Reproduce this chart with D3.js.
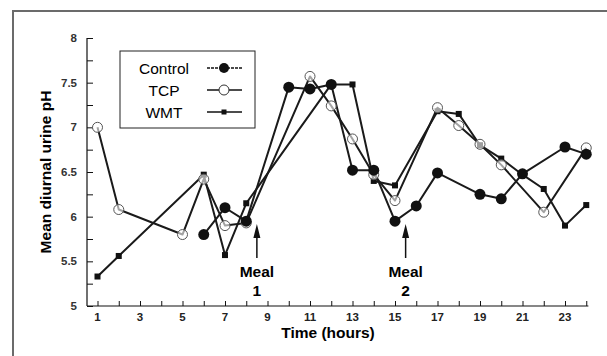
<!DOCTYPE html>
<html>
<head>
<meta charset="utf-8">
<script src="https://cdn.jsdelivr.net/npm/d3@7"></script>
<style>
body { margin: 0; background: #fff; }
text { font-family: "Liberation Sans", Arial, sans-serif; }
</style>
</head>
<body>
<svg id="vis"></svg>
<script>
// data
var controlHours = [6, 7, 8, 10, 11, 12, 13, 14, 15, 16, 17, 19, 20, 21, 23, 24];
var controlPH    = [5.8, 6.1, 5.95, 7.45, 7.43, 7.48, 6.52, 6.52, 5.95, 6.12, 6.49, 6.25, 6.2, 6.48, 6.78, 6.7];

var tcpHours = [1, 2, 5, 6, 7, 8, 11, 12, 13, 14, 15, 17, 18, 19, 20, 22, 24];
var tcpPH    = [7.0, 6.08, 5.8, 6.42, 5.9, 5.93, 7.57, 7.24, 6.87, 6.47, 6.18, 7.22, 7.02, 6.81, 6.58, 6.05, 6.77];

var wmtHours = [1, 2, 6, 7, 8, 12, 13, 14, 15, 17, 18, 19, 20, 21, 22, 23, 24];
var wmtPH    = [5.33, 5.56, 6.47, 5.57, 6.15, 7.48, 7.48, 6.4, 6.35, 7.18, 7.15, 6.8, 6.65, 6.47, 6.31, 5.9, 6.13];

var seriesNames = ["Control", "TCP", "WMT"];
var xTickLabels = [1, 3, 5, 7, 9, 11, 13, 15, 17, 19, 21, 23];
var yTickLabels = [5, 5.5, 6, 6.5, 7, 7.5, 8];
var meals = [{hour: 8.5, label: "1"}, {hour: 15.5, label: "2"}];

var width = 607, height = 356;
var svg = d3.select("#vis").attr("width", width).attr("height", height);

// outer frame (left and top edges visible)
svg.append("path")
    .attr("d", "M13,356 L13,11 L607,11")
    .attr("fill", "none")
    .attr("stroke", "#6b6b6b")
    .attr("stroke-width", 2);

var x = d3.scaleLinear().domain([1, 23]).range([97.5, 565]);
var y = d3.scaleLinear().domain([5, 8]).range([306, 38]);
var x0 = 87, xEnd = x(24.1);

// axes
var xAxis = d3.axisTop(x)
    .tickValues(d3.range(1, 25))
    .tickSize(5)
    .tickFormat("");
var gx = svg.append("g").attr("transform", "translate(0," + y(5) + ")").call(xAxis);
gx.select(".domain").attr("d", "M" + x0 + ",0H" + xEnd);
gx.selectAll("line").attr("stroke", "#111");
gx.select(".domain").attr("stroke", "#111").attr("stroke-width", 1.2);

svg.append("g").selectAll("text")
    .data(xTickLabels)
    .enter().append("text")
    .attr("x", function(d){ return x(d); })
    .attr("y", y(5) + 15)
    .attr("text-anchor", "middle")
    .style("font-size", "11.5px")
    .style("font-weight", "bold")
    .style("fill", "#222")
    .text(function(d){ return d; });

var yAxis = d3.axisRight(y)
    .tickValues(d3.range(5, 8.01, 0.25))
    .tickSize(6)
    .tickFormat("");
var gy = svg.append("g").attr("transform", "translate(" + x0 + ",0)").call(yAxis);
gy.select(".domain").attr("d", "M0," + y(8) + "V" + y(5));
gy.selectAll("line").attr("stroke", "#111");
gy.select(".domain").attr("stroke", "#111").attr("stroke-width", 1.2);

svg.append("g").selectAll("text")
    .data(yTickLabels)
    .enter().append("text")
    .attr("x", x0 - 10)
    .attr("y", function(d){ return y(d) + 4; })
    .attr("text-anchor", "end")
    .style("font-size", "11.5px")
    .style("font-weight", "bold")
    .style("fill", "#333")
    .text(function(d){ return d; });

// axis titles
svg.append("text")
    .attr("x", 328).attr("y", 338)
    .attr("text-anchor", "middle")
    .style("font-size", "15.5px")
    .style("font-weight", "bold")
    .text("Time (hours)");

svg.append("text")
    .attr("transform", "translate(51," + 172 + ") rotate(-90)")
    .attr("text-anchor", "middle")
    .style("font-size", "15.5px")
    .style("font-weight", "bold")
    .text("Mean diurnal urine pH");

// series
var line = d3.line()
    .x(function(d){ return x(d[0]); })
    .y(function(d){ return y(d[1]); });

function pairs(hs, vs) {
    return hs.map(function(h, i){ return [h, vs[i]]; });
}

var control = pairs(controlHours, controlPH);
var tcp = pairs(tcpHours, tcpPH);
var wmt = pairs(wmtHours, wmtPH);

[wmt, tcp, control].forEach(function(s){
    svg.append("path")
        .datum(s)
        .attr("d", line)
        .attr("fill", "none")
        .attr("stroke", "#1a1a1a")
        .attr("stroke-width", 2)
        .attr("stroke-linejoin", "round");
});

svg.append("g").selectAll("rect")
    .data(wmt)
    .enter().append("rect")
    .attr("x", function(d){ return x(d[0]) - 3; })
    .attr("y", function(d){ return y(d[1]) - 3; })
    .attr("width", 6).attr("height", 6)
    .attr("fill", "#111");

svg.append("g").selectAll("circle")
    .data(tcp)
    .enter().append("circle")
    .attr("cx", function(d){ return x(d[0]); })
    .attr("cy", function(d){ return y(d[1]); })
    .attr("r", 5)
    .attr("fill", "#fff")
    .attr("fill-opacity", 0.6)
    .attr("stroke", "#555")
    .attr("stroke-width", 1);

svg.append("g").selectAll("circle")
    .data(control)
    .enter().append("circle")
    .attr("cx", function(d){ return x(d[0]); })
    .attr("cy", function(d){ return y(d[1]); })
    .attr("r", 5.5)
    .attr("fill", "#111");

// meal arrows
var mealG = svg.append("g").selectAll("g")
    .data(meals)
    .enter().append("g");
mealG.append("line")
    .attr("x1", function(d){ return x(d.hour); })
    .attr("x2", function(d){ return x(d.hour); })
    .attr("y1", 234).attr("y2", 258)
    .attr("stroke", "#111").attr("stroke-width", 1.5);
mealG.append("path")
    .attr("d", function(d){ var cx = x(d.hour); return "M" + (cx - 3.5) + ",238L" + cx + ",224L" + (cx + 3.5) + ",238Z"; })
    .attr("fill", "#111");
mealG.append("text")
    .attr("x", function(d){ return x(d.hour); })
    .attr("y", 277)
    .attr("text-anchor", "middle")
    .style("font-size", "15.5px")
    .style("font-weight", "bold")
    .text("Meal");
mealG.append("text")
    .attr("x", function(d){ return x(d.hour); })
    .attr("y", 296)
    .attr("text-anchor", "middle")
    .style("font-size", "15.5px")
    .style("font-weight", "bold")
    .text(function(d){ return d.label; });

// legend
var legend = svg.append("g");
legend.append("rect")
    .attr("x", 120).attr("y", 51)
    .attr("width", 135).attr("height", 77)
    .attr("fill", "#fff")
    .attr("stroke", "#222").attr("stroke-width", 1);

var legRows = legend.selectAll("g")
    .data(seriesNames)
    .enter().append("g")
    .attr("transform", function(d, i){ return "translate(0," + [68, 90, 112][i] + ")"; });
legRows.append("text")
    .attr("x", 164)
    .attr("y", 5.5)
    .attr("text-anchor", "middle")
    .style("font-size", "15.5px")
    .text(function(d){ return d; });
legRows.append("line")
    .attr("x1", 207).attr("x2", 242)
    .attr("y1", 0).attr("y2", 0)
    .attr("stroke", "#111")
    .attr("stroke-width", 1.6)
    .attr("stroke-dasharray", function(d, i){ return i == 0 ? "3,1" : null; });
legRows.each(function(d, i){
    var g = d3.select(this);
    if (i == 0) g.append("circle").attr("cx", 224).attr("cy", 0).attr("r", 5).attr("fill", "#111");
    if (i == 1) g.append("circle").attr("cx", 224).attr("cy", 0).attr("r", 5).attr("fill", "#fff").attr("stroke", "#333");
    if (i == 2) g.append("rect").attr("x", 221.5).attr("y", -2.5).attr("width", 5).attr("height", 5).attr("fill", "#111");
});
</script>
</body>
</html>
